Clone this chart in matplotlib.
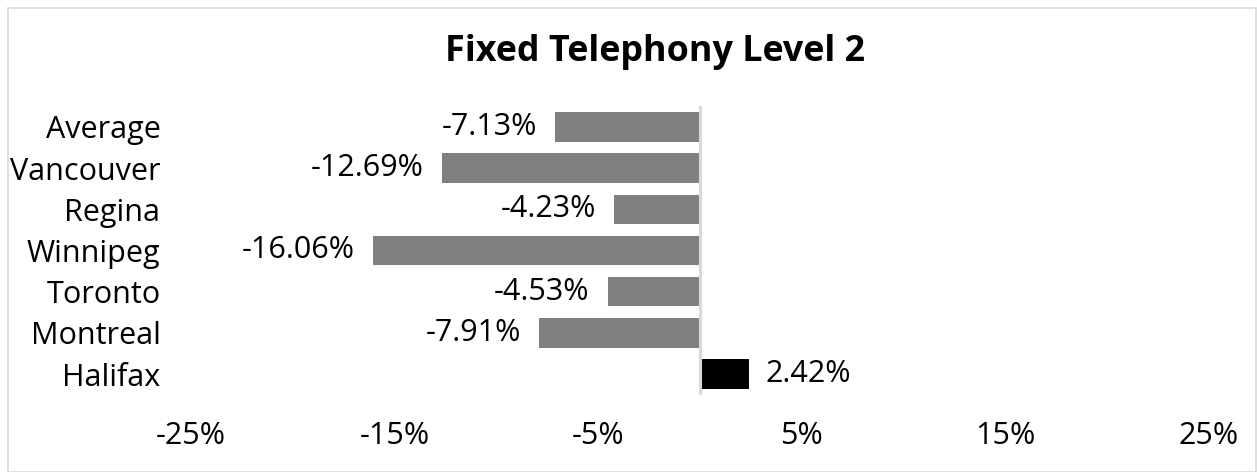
import matplotlib
matplotlib.use("Agg")
import matplotlib.pyplot as plt
from matplotlib.patches import Rectangle

# Data (top to bottom as shown)
cities = ["Average", "Vancouver", "Regina", "Winnipeg", "Toronto", "Montreal", "Halifax"]
changes = [-7.13, -12.69, -4.23, -16.06, -4.53, -7.91, 2.42]
bar_colors = ["#808080", "#808080", "#808080", "#808080", "#808080", "#808080", "#000000"]
xticks = [-25, -15, -5, 5, 15, 25]

plt.rcParams["font.family"] = ["Open Sans", "DejaVu Sans"]

fig = plt.figure(figsize=(12.57, 4.72), dpi=100)
ax = fig.add_axes([191 / 1257, 1 - 394.6 / 472, (1209 - 191) / 1257, (394.6 - 106.4) / 472])

ypos = list(range(len(cities)))
ax.barh(ypos, changes, height=0.72, color=bar_colors)
ax.set_ylim(len(cities) - 0.5, -0.5)
ax.set_xlim(-25, 25)

for y, v in zip(ypos, changes):
    off = -13 if v < 0 else 12
    ax.annotate(f"{v:.2f}%", (v, y), xytext=(off, 0), textcoords="offset points",
                ha="right" if v < 0 else "left", va="center", fontsize=22)

ax.axvline(0, color="#d9d9d9", lw=2.2)

ax.set_yticks(ypos)
ax.set_yticklabels(cities, fontsize=22)
ax.set_xticks(xticks)
ax.set_xticklabels([f"{t}%" for t in xticks], fontsize=22)
ax.tick_params(axis="both", length=0)
ax.tick_params(axis="x", pad=19)
ax.tick_params(axis="y", pad=22)
for s in ax.spines.values():
    s.set_visible(False)

fig.text(655 / 1257, 1 - 52 / 472, "Fixed Telephony Level 2", ha="center", va="center",
         fontsize=25.8, fontweight="bold")

fig.patches.append(Rectangle((8 / 1257, 0), 1 - 9 / 1257, 1 - 7.5 / 472, transform=fig.transFigure,
                             fill=False, edgecolor="#d9d9d9", lw=1.2))

fig.savefig("out.png", dpi=100)
